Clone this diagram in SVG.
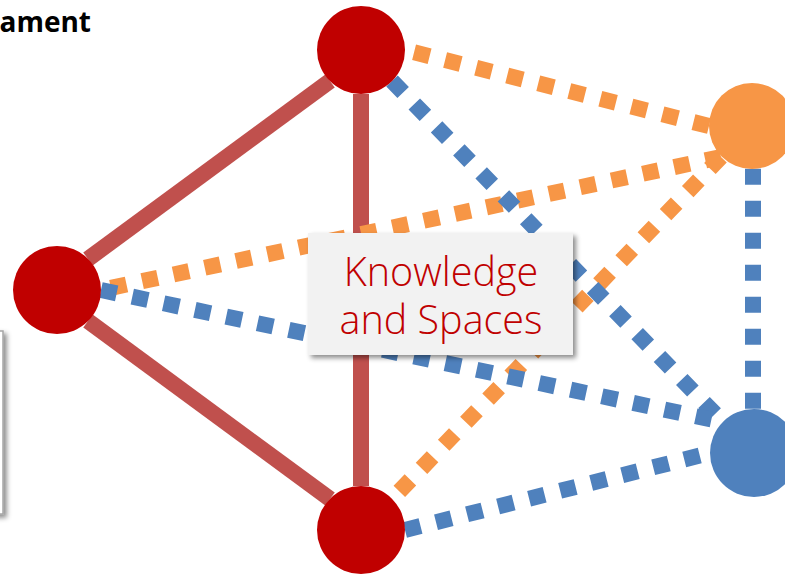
<svg xmlns="http://www.w3.org/2000/svg" width="785" height="575" viewBox="0 0 785 575">
<style>
.red{stroke:#C0504D;stroke-width:16;fill:none}
.org{stroke:#F79646;stroke-width:16;stroke-dasharray:16 16;fill:none}
.blu{stroke:#4F81BD;stroke-width:16;stroke-dasharray:16 16;fill:none}
.lbl{font-family:"Open Sans","Liberation Sans",sans-serif;font-size:39.5px;font-weight:350;fill:#C00000;text-anchor:middle}
</style>
<defs>
<filter id="sh" x="-20%" y="-20%" width="140%" height="140%">
<feDropShadow dx="3" dy="3" stdDeviation="2.5" flood-color="#000" flood-opacity="0.45"/>
</filter>
</defs>
<rect width="785" height="575" fill="#fff"/>
<text x="91" y="32" font-family="'Open Sans','Liberation Sans',sans-serif" font-weight="bold" font-size="28" text-anchor="end" fill="#000">ament</text>
<rect x="-300" y="331" width="303" height="183" fill="#fff" stroke="#A6A6A6" stroke-width="1.5" filter="url(#sh)"/>
<g id="connectors">
<line class="red" x1="88" y1="259" x2="330" y2="81"/>
<line class="red" x1="88" y1="321" x2="330" y2="499"/>
<line class="red" x1="361" y1="94" x2="361" y2="486"/>
<line class="org" x1="709" y1="126" x2="405" y2="50"/>
<line class="org" x1="721" y1="157" x2="101" y2="290"/>
<line class="org" x1="721" y1="157" x2="392" y2="499"/>
<line class="blu" x1="392" y1="81" x2="723" y2="422"/>
<line class="blu" x1="101" y1="290" x2="723" y2="422"/>
<line class="blu" x1="405" y1="530" x2="710" y2="453"/>
<line class="blu" x1="753" y1="168.7" x2="753" y2="409"/>
</g>
<g id="node-top"><circle cx="361" cy="50" r="44" fill="#C00000"/></g>
<g id="node-left"><circle cx="57" cy="290" r="44" fill="#C00000"/></g>
<g id="node-bottom"><circle cx="361" cy="530" r="44" fill="#C00000"/></g>
<g id="node-orange"><circle cx="752" cy="126" r="43" fill="#F79646"/></g>
<g id="node-blue"><circle cx="754" cy="453" r="44" fill="#4F81BD"/></g>
<g id="label">
<rect x="308" y="233" width="265" height="122" fill="#F2F2F2" filter="url(#sh)"/>
<text class="lbl" x="441" y="286">Knowledge</text>
<text class="lbl" x="441" y="334">and Spaces</text>
</g>
</svg>
